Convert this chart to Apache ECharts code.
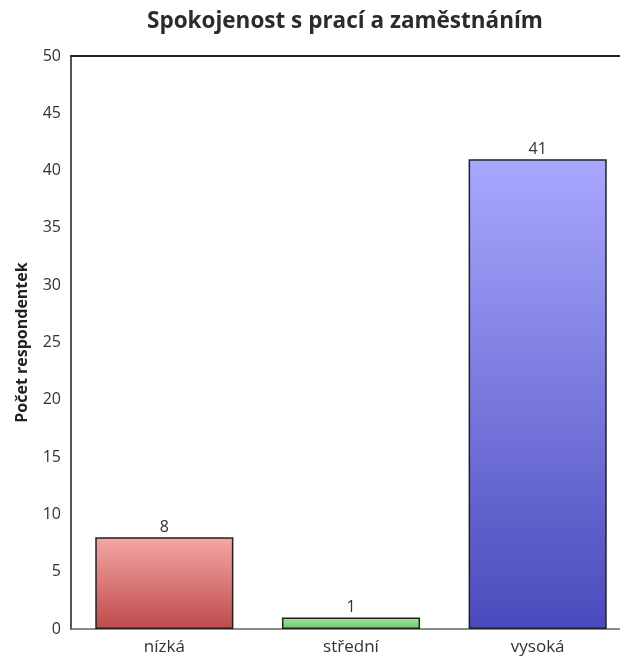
<!DOCTYPE html>
<html>
<head>
<meta charset="utf-8">
<script src="https://cdn.jsdelivr.net/npm/echarts@6/dist/echarts.min.js"></script>
<style>
  html, body { margin: 0; padding: 0; background: #fff; }
  #chart { width: 620px; height: 662px; }
</style>
</head>
<body>
<div id="chart"></div>
<script>
// Satisfaction with work and employment: respondent counts per level
const categories = ['nízká', 'střední', 'vysoká'];
const counts = [8, 1, 41];
const yTicks = { min: 0, max: 50, step: 5 };

// top/bottom gradient colours for each bar
const barTopColors = ['#f7a6a6', '#a6e6a2', '#a8a8ff'];
const barBottomColors = ['#bd4b4b', '#6cc46a', '#4a4abc'];

const font = '"Open Sans", "Noto Sans", sans-serif';

const chart = echarts.init(document.getElementById('chart'), null, { renderer: 'canvas' });

const barData = counts.map((v, i) => ({
  value: v,
  itemStyle: {
    color: new echarts.graphic.LinearGradient(0, 0, 0, 1, [
      { offset: 0, color: barTopColors[i] },
      { offset: 1, color: barBottomColors[i] }
    ]),
    borderColor: '#222',
    borderWidth: 1.5
  }
}));

chart.setOption({
  animation: false,
  title: {
    text: 'Spokojenost s prací a zaměstnáním',
    left: 147,
    top: 10,
    padding: 0,
    textStyle: { fontFamily: font, fontSize: 22.5, fontWeight: 'bold', color: '#2b2b2b' }
  },
  grid: { left: 71, top: 56, right: -11, bottom: 33, containLabel: false, outerBoundsMode: 'none' },
  xAxis: [
    {
      type: 'category',
      data: categories,
      position: 'bottom',
      axisLine: { lineStyle: { color: '#666', width: 1.5 } },
      axisTick: { show: false },
      axisLabel: { fontFamily: font, fontSize: 17, color: '#333', margin: 10 }
    },
    {
      type: 'category',
      data: categories,
      position: 'top',
      axisLine: { lineStyle: { color: '#222', width: 2 } },
      axisTick: { show: false },
      axisLabel: { show: false }
    }
  ],
  yAxis: {
    type: 'value',
    min: yTicks.min,
    max: yTicks.max,
    interval: yTicks.step,
    name: 'Počet respondentek',
    nameLocation: 'middle',
    nameGap: 41,
    nameTextStyle: { fontFamily: font, fontSize: 16, fontWeight: 'bold', color: '#222' },
    axisLine: { show: true, lineStyle: { color: '#555', width: 2 } },
    axisTick: { show: false },
    splitLine: { show: false },
    axisLabel: { fontFamily: font, fontSize: 16, color: '#333', margin: 10 }
  },
  series: [{
    type: 'bar',
    xAxisIndex: 0,
    data: barData,
    barCategoryGap: '26%',
    label: {
      show: true,
      position: 'top',
      distance: 2,
      fontFamily: font,
      fontSize: 16,
      color: '#333'
    }
  }]
});
</script>
</body>
</html>
